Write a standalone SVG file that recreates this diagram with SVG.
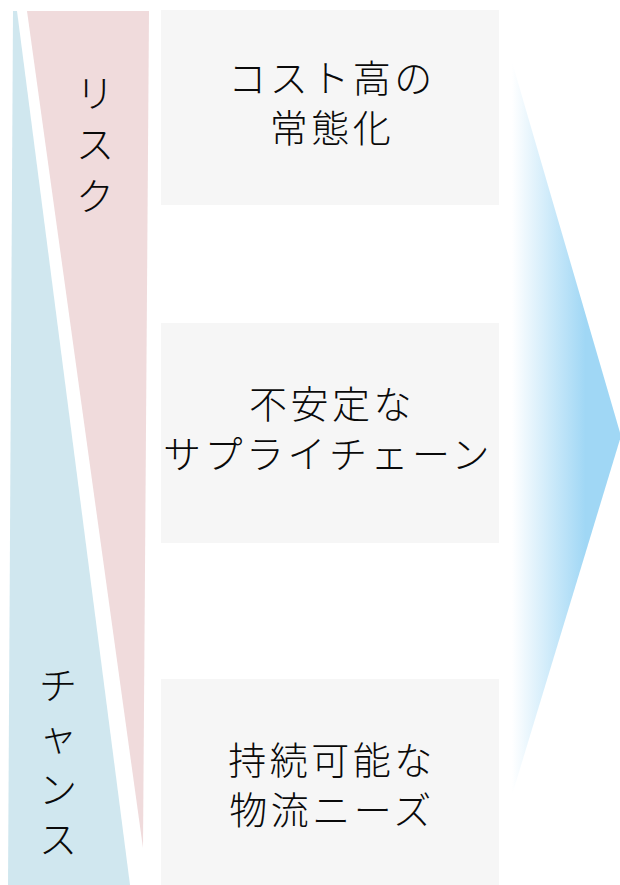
<svg xmlns="http://www.w3.org/2000/svg" width="620" height="885" viewBox="0 0 620 885">
  <defs>
    <linearGradient id="arrowGrad" gradientUnits="userSpaceOnUse" x1="512" y1="0" x2="620" y2="0">
      <stop offset="0" stop-color="#ffffff"/>
      <stop offset="0.68" stop-color="#a0d7f5"/>
      <stop offset="1" stop-color="#a0d7f5"/>
    </linearGradient>
    <style>
      .box { fill: #f6f6f6; }
      .risk { fill: #f0dbdc; }
      .chance { fill: #d0e7ef; }
      .t { font-family: "Noto Sans CJK JP", "Noto Sans", sans-serif; font-size: 38px; font-weight: 300; fill: #0a0a0a; text-anchor: middle; letter-spacing: 3.5px; }
      .v { font-family: "Noto Sans CJK JP", "Noto Sans", sans-serif; font-size: 38px; font-weight: 300; fill: #0a0a0a; text-anchor: middle; dominant-baseline: central; }
    </style>
  </defs>
  <rect x="0" y="0" width="620" height="885" fill="#ffffff"/>

  <g id="chance">
    <polygon class="chance" points="13,11 17,11 130,885 8,885"/>
    <text class="v" x="58" y="682">チ</text>
    <text class="v" x="58" y="733">ャ</text>
    <text class="v" x="58" y="786">ン</text>
    <text class="v" x="58" y="836">ス</text>
  </g>

  <g id="risk">
    <polygon class="risk" points="27,11 149,11 143,848"/>
    <text class="v" x="95" y="90">リ</text>
    <text class="v" x="95" y="141">ス</text>
    <text class="v" x="95" y="193">ク</text>
  </g>

  <g id="box1">
    <rect class="box" x="161" y="10" width="338" height="195"/>
    <text class="t" x="332" y="92">コスト高の</text>
    <text class="t" x="332" y="142">常態化</text>
  </g>

  <g id="box2">
    <rect class="box" x="161" y="323" width="338" height="220"/>
    <text class="t" x="332" y="418">不安定な</text>
    <text class="t" x="328" y="468">サプライチェーン</text>
  </g>

  <g id="box3">
    <rect class="box" x="161" y="679" width="338" height="206"/>
    <text class="t" x="332" y="774">持続可能な</text>
    <text class="t" x="332" y="824">物流ニーズ</text>
  </g>

  <g id="connectors">
    <polygon id="arrow" points="512,62 621,436 512,795" fill="url(#arrowGrad)"/>
  </g>
</svg>
